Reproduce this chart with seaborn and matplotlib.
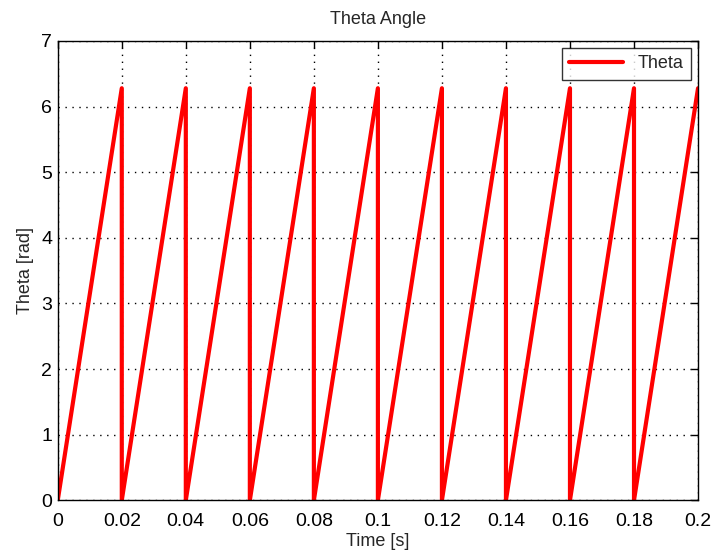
import matplotlib
matplotlib.use("Agg")
import matplotlib.pyplot as plt
import seaborn as sns
import pandas as pd

# sawtooth vertices: rises 0 -> 2*pi every 0.02 s, then drops
time_s = [0.0, 0.02, 0.02, 0.04, 0.04, 0.06, 0.06, 0.08, 0.08, 0.10, 0.10,
          0.12, 0.12, 0.14, 0.14, 0.16, 0.16, 0.18, 0.18, 0.20]
theta_rad = [0.0, 6.28, 0.0, 6.28, 0.0, 6.28, 0.0, 6.28, 0.0, 6.28, 0.0,
             6.28, 0.0, 6.28, 0.0, 6.28, 0.0, 6.28, 0.0, 6.28]
x_ticks = [0, 0.02, 0.04, 0.06, 0.08, 0.1, 0.12, 0.14, 0.16, 0.18, 0.2]
x_labels = ["0", "0.02", "0.04", "0.06", "0.08", "0.1", "0.12", "0.14", "0.16", "0.18", "0.2"]
y_ticks = [0, 1, 2, 3, 4, 5, 6, 7]

df = pd.DataFrame({"Time": time_s, "Theta": theta_rad})

sns.set_style("white")
plt.rcParams['font.family'] = ['Liberation Sans', 'DejaVu Sans']

fig = plt.figure(figsize=(7.13, 5.54), dpi=100)
ax = fig.add_axes([0.081, 0.097, 0.898, 0.829])

sns.lineplot(data=df, x="Time", y="Theta", sort=False, estimator=None,
             color="red", linewidth=3, label="Theta", ax=ax)

ax.set_xlim(0, 0.2)
ax.set_ylim(0, 7)
ax.set_xticks(x_ticks)
ax.set_xticklabels(x_labels)
ax.set_yticks(y_ticks)
ax.tick_params(direction="in", length=5, width=1, labelsize=14, colors="black",
               top=True, right=True)
ax.tick_params(axis="x", pad=9)
ax.tick_params(axis="y", pad=4)
ax.grid(True, color="black", linestyle=(0, (1, 4)), linewidth=1)
for s in ax.spines.values():
    s.set_color("black")
    s.set_linewidth(1)

ax.set_xlabel("Time [s]", fontsize=13, labelpad=2)
ax.set_ylabel("Theta [rad]", fontsize=13, labelpad=5)
ax.set_title("Theta Angle", fontsize=13, pad=12)

leg = ax.legend(loc="upper right", fontsize=13, frameon=True, fancybox=False,
                handlelength=3, borderaxespad=0.4)
leg.get_frame().set_edgecolor("black")
leg.get_frame().set_linewidth(1)

fig.savefig("out.png", dpi=100)
